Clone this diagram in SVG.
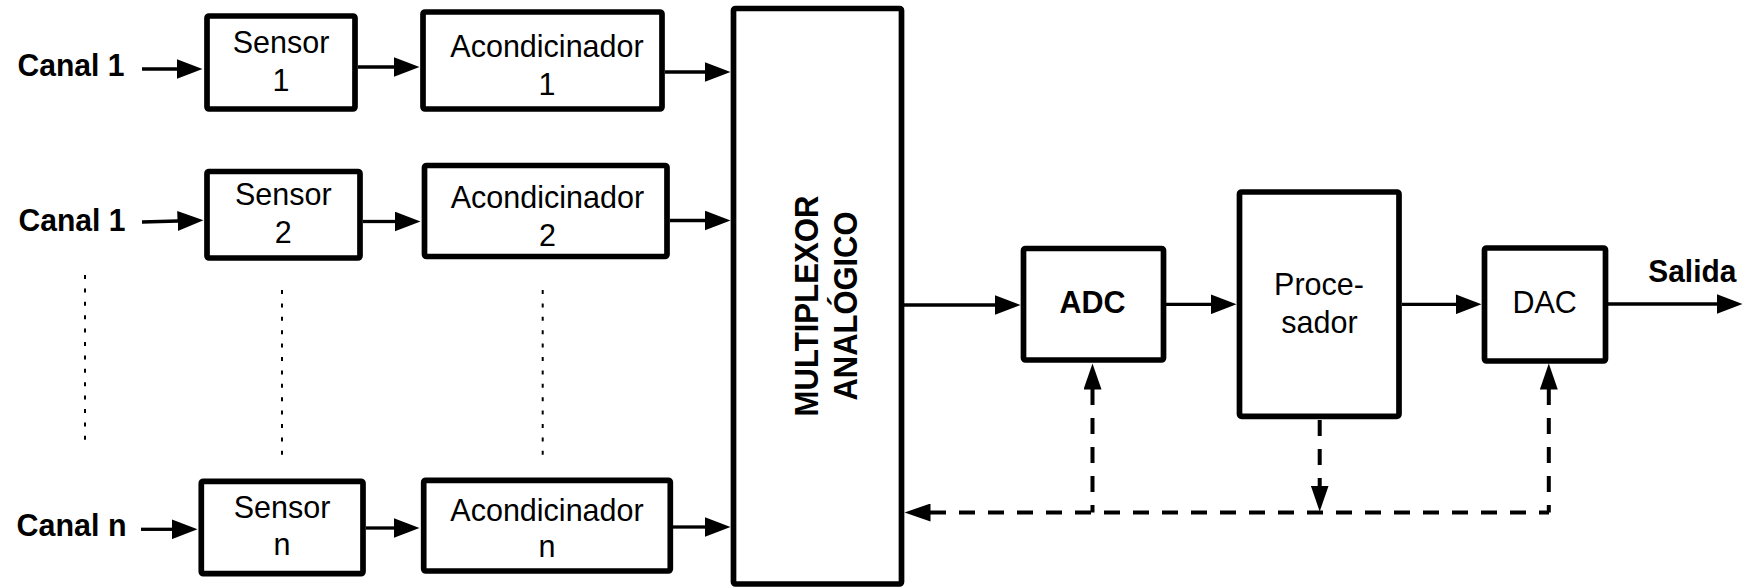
<svg xmlns="http://www.w3.org/2000/svg" width="1749" height="588" viewBox="0 0 1749 588">
<defs>
<marker id="ah" markerUnits="userSpaceOnUse" markerWidth="27" markerHeight="20" refX="0.5" refY="10" orient="auto"><path d="M0,0 L26,10 L0,20 z" fill="#000"/></marker>
<marker id="ahd" markerUnits="userSpaceOnUse" markerWidth="27" markerHeight="18" refX="0.5" refY="9" orient="auto-start-reverse"><path d="M0,0 L26,9 L0,18 z" fill="#000"/></marker>
</defs>
<style>
.box{fill:#fff;stroke:#000;stroke-width:5.7;stroke-linejoin:round}
.t{font-family:"Liberation Sans",Arial,sans-serif;font-size:30.5px;fill:#000;text-anchor:middle}
.b{font-weight:bold}
.l{text-anchor:start}
.ln{stroke:#000;stroke-width:3.3;fill:none;marker-end:url(#ah)}
.dash{stroke:#000;stroke-width:4;stroke-dasharray:16 13;fill:none}
.dot{stroke:#000;stroke-width:2;stroke-dasharray:4 9.4;fill:none}
</style>
<rect width="1749" height="588" fill="#fff"/>
<g id="labels">
<text class="t b l" x="17.5" y="76" textLength="107" lengthAdjust="spacingAndGlyphs">Canal 1</text>
<text class="t b l" x="18.5" y="231" textLength="107" lengthAdjust="spacingAndGlyphs">Canal 1</text>
<text class="t b l" x="16.5" y="536" textLength="110" lengthAdjust="spacingAndGlyphs">Canal n</text>
<text class="t b l" x="1648.3" y="281.7" textLength="88" lengthAdjust="spacingAndGlyphs">Salida</text>
</g>
<g id="sensor1"><rect class="box" x="207" y="16" width="148" height="93" rx="2"/><text class="t" x="281" y="53">Sensor</text><text class="t" x="281" y="91">1</text></g>
<g id="acond1"><rect class="box" x="423" y="12" width="239" height="97" rx="2"/><text class="t" x="547" y="57">Acondicinador</text><text class="t" x="547" y="95">1</text></g>
<g id="sensor2"><rect class="box" x="207" y="171.5" width="153" height="86.5" rx="2"/><text class="t" x="283.3" y="205">Sensor</text><text class="t" x="283.3" y="242.7">2</text></g>
<g id="acond2"><rect class="box" x="424.5" y="165.5" width="242.5" height="91" rx="2"/><text class="t" x="547.4" y="207.5">Acondicinador</text><text class="t" x="547.4" y="245.5">2</text></g>
<g id="sensorn"><rect class="box" x="201.3" y="481.3" width="161.7" height="92.4" rx="2"/><text class="t" x="282" y="517.7">Sensor</text><text class="t" x="282" y="555">n</text></g>
<g id="acondn"><rect class="box" x="423.7" y="480.3" width="246.6" height="90.7" rx="2"/><text class="t" x="547" y="520.7">Acondicinador</text><text class="t" x="547" y="557.3">n</text></g>
<g id="mux"><rect class="box" x="733.5" y="8.5" width="168" height="575.5" rx="2"/>
<text class="t b" transform="translate(818,306) rotate(-90)" x="0" y="0" style="font-size:33px" textLength="221" lengthAdjust="spacingAndGlyphs">MULTIPLEXOR</text>
<text class="t b" transform="translate(856.7,306) rotate(-90)" x="0" y="0" style="font-size:33px" textLength="189" lengthAdjust="spacingAndGlyphs">ANALÓGICO</text>
</g>
<g id="adc"><rect class="box" x="1023.5" y="248.5" width="140" height="111.5" rx="2"/><text class="t b" x="1092.5" y="313.3">ADC</text></g>
<g id="proc"><rect class="box" x="1239.5" y="192" width="159.5" height="224.3" rx="2"/><text class="t" x="1319" y="295">Proce-</text><text class="t" x="1319.5" y="332.7">sador</text></g>
<g id="dac"><rect class="box" x="1484.5" y="248" width="121" height="113" rx="2"/><text class="t" x="1544.7" y="313.3">DAC</text></g>
<g id="connectors">
<path class="ln" d="M142,69 H177"/>
<path class="ln" d="M358,67 H394"/>
<path class="ln" d="M665,72 H705"/>
<path class="ln" d="M142,222 L178,221"/>
<path class="ln" d="M363,221.5 H395"/>
<path class="ln" d="M670,220.5 H705"/>
<path class="ln" d="M141,529.3 H172"/>
<path class="ln" d="M366,528 H394"/>
<path class="ln" d="M673,527 H705"/>
<path class="ln" d="M904,305 H995"/>
<path class="ln" d="M1166,304.3 H1211"/>
<path class="ln" d="M1402,304.3 H1456"/>
<path class="ln" d="M1608,304 H1717"/>
<path class="dash" d="M930,512.5 H1549" marker-start="url(#ahd)"/>
<path class="dash" d="M1092.5,389 V512.5" marker-start="url(#ahd)"/>
<path class="dash" d="M1548.8,389 V512.5" marker-start="url(#ahd)"/>
<path class="dash" d="M1319.7,420 V486" marker-end="url(#ahd)"/>
<path class="dot" d="M85,275 V442"/>
<path class="dot" d="M282,290 V455"/>
<path class="dot" d="M542.7,290 V455"/>
</g>
</svg>
